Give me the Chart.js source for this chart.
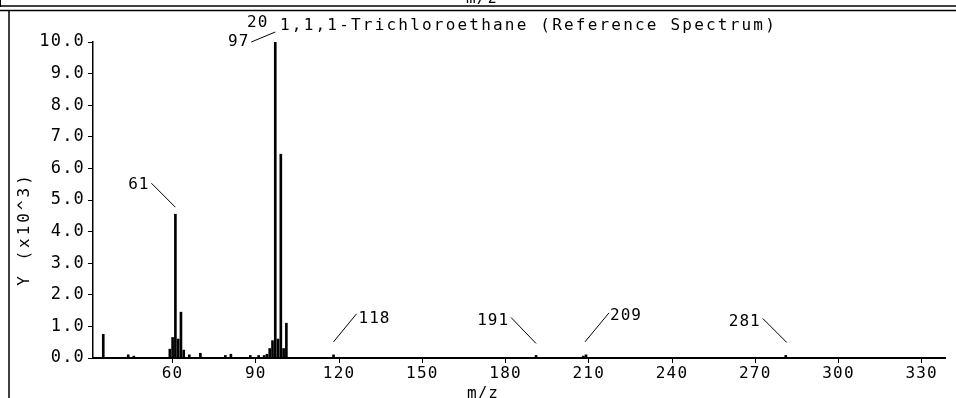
<!DOCTYPE html>
<html><head><meta charset="utf-8">
<script src="https://cdn.jsdelivr.net/npm/chart.js@4.4.1/dist/chart.umd.min.js"></script>
<style>html,body{margin:0;padding:0;background:#fff;overflow:hidden}#wrap{position:relative;width:956px;height:398px;background:#fff}</style>
</head><body><div id="wrap"><canvas id="c" width="956" height="398"></canvas></div>
<script>
// ---- data (intensity in units of 10^3) ----
const mzValues    = [35, 44, 46, 59, 60, 61, 62, 63, 64, 66, 70, 79, 81, 88, 91, 93, 94, 95, 96, 97, 98, 99, 100, 101, 118, 191, 208, 209, 281];
const intensities = [0.75, 0.10, 0.06, 0.28, 0.65, 4.55, 0.60, 1.45, 0.25, 0.10, 0.15, 0.08, 0.12, 0.08, 0.08, 0.08, 0.12, 0.30, 0.55, 10.0, 0.60, 6.45, 0.30, 1.10, 0.10, 0.08, 0.06, 0.10, 0.08];
const labeledPeaks = [61, 97, 118, 191, 209, 281];
const xTicks = [60, 90, 120, 150, 180, 210, 240, 270, 300, 330];
const yTicks = [0, 1, 2, 3, 4, 5, 6, 7, 8, 9, 10];
const scanLabel = '20';
const chartTitle = '1,1,1-Trichloroethane (Reference Spectrum)';
const xAxisTitle = 'm/z';
const yAxisTitle = 'Y (x10^3)';

// ---- styles: leader line offsets relative to peak top (px) ----
const leaderStyle = {
  61:  {line: [-24, -31, 0, -7],  text: [-26, -29, 'right']},
  97:  {line: [-24, 0, 0, -10],   text: [-26, 0, 'right']},
  118: {line: [0, -13, 23, -41],  text: [25, -36, 'left']},
  191: {line: [-25, -38, 0, -12], text: [-27, -35, 'right']},
  209: {line: [-1, -13, 23, -42], text: [24, -39, 'left']},
  281: {line: [-23, -37, 1, -13], text: [-25, -34, 'right']}
};
const FONT = '"DejaVu Sans Mono", "Liberation Mono", monospace';

const spacing = {
  id: 'spacing',
  beforeDraw(chart) { chart.ctx.letterSpacing = '1.2px'; }
};

const decor = {
  id: 'decor',
  afterDraw(chart) {
    const ctx = chart.ctx, xs = chart.scales.x, ys = chart.scales.y;
    ctx.save();
    ctx.strokeStyle = '#000'; ctx.fillStyle = '#000';
    const ln = (x1, y1, x2, y2, w) => { ctx.lineWidth = w; ctx.beginPath(); ctx.moveTo(x1, y1); ctx.lineTo(x2, y2); ctx.stroke(); };
    // page frame
    ln(0, 6, 956, 6, 1.5);
    ln(0, 10.5, 956, 10.5, 1.5);
    ln(0.5, 0, 0.5, 7, 1);
    ln(9, 10, 9, 398, 1.5);
    // cut-off text from the panel above
    ctx.font = '16px ' + FONT;
    ctx.letterSpacing = '1px';
    ctx.textAlign = 'center'; ctx.textBaseline = 'alphabetic';
    ctx.fillText(xAxisTitle, 482, 3);
    // title
    ctx.letterSpacing = '2.2px';
    ctx.textAlign = 'left'; ctx.textBaseline = 'middle';
    ctx.fillText(chartTitle, 280, 26);
    ctx.letterSpacing = '1px';
    ctx.fillText(scanLabel, 247, 23);
    // axis titles
    ctx.textAlign = 'center';
    ctx.fillText(xAxisTitle, 483, 394);
    ctx.save();
    ctx.letterSpacing = '3px';
    ctx.translate(25, 229); ctx.rotate(-Math.PI / 2);
    ctx.fillText(yAxisTitle, 0, 0);
    ctx.restore();
    // peak labels with leader lines
    ctx.letterSpacing = '1px';
    labeledPeaks.forEach(m => {
      const i = mzValues.indexOf(m);
      const px = xs.getPixelForValue(m), py = ys.getPixelForValue(intensities[i]);
      const s = leaderStyle[m];
      ln(px + s.line[0], py + s.line[1], px + s.line[2], py + s.line[3], 1);
      ctx.textAlign = s.text[2];
      ctx.textBaseline = 'middle';
      ctx.fillText(String(m), px + s.text[0], py + s.text[1]);
    });
    ctx.restore();
  }
};

new Chart(document.getElementById('c'), {
  type: 'bar',
  data: {
    datasets: [{
      data: mzValues.map((m, i) => ({x: m, y: intensities[i]})),
      backgroundColor: '#000',
      borderWidth: 0,
      barThickness: 2
    }]
  },
  options: {
    responsive: false,
    animation: false,
    devicePixelRatio: 1,
    layout: {padding: {left: 0, right: 11, top: 42, bottom: 0}},
    plugins: {legend: {display: false}, tooltip: {enabled: false}, title: {display: false}},
    scales: {
      x: {
        type: 'linear', min: 31.3, max: 338.4, offset: false,
        grid: {offset: false, drawOnChartArea: false, drawTicks: true, tickLength: 5, color: '#000', lineWidth: 1},
        border: {display: true, color: '#000', width: 2},
        afterBuildTicks: s => { s.ticks = xTicks.map(v => ({value: v})); },
        afterFit: s => { s.height = 40; },
        ticks: {color: '#000', font: {family: FONT, size: 16}, padding: 1, maxRotation: 0, autoSkip: false}
      },
      y: {
        type: 'linear', min: 0, max: 10,
        grid: {drawOnChartArea: false, drawTicks: true, tickLength: 5, color: '#000', lineWidth: 1},
        border: {display: true, color: '#000', width: 1.5},
        afterBuildTicks: s => { s.ticks = yTicks.map(v => ({value: v})); },
        afterFit: s => { s.width = 93; },
        ticks: {color: '#000', font: {family: FONT, size: 17}, padding: 3, callback: v => Number(v).toFixed(1)}
      }
    }
  },
  plugins: [spacing, decor]
});
</script>
</body></html>
